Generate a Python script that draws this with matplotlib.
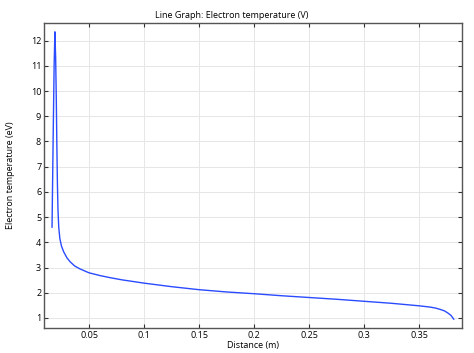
import numpy as np
import matplotlib
matplotlib.use('Agg')
import matplotlib.pyplot as plt

# Electron temperature along the line
distance = [0.0164, 0.0175, 0.0183, 0.019, 0.0197, 0.0203, 0.0208, 0.0213, 0.0218, 0.0225,
            0.0235, 0.025, 0.027, 0.03, 0.033, 0.037, 0.042, 0.05, 0.06, 0.07,
            0.08, 0.1, 0.125, 0.15, 0.175, 0.2, 0.225, 0.25, 0.275, 0.3,
            0.325, 0.35, 0.36, 0.365, 0.369, 0.373, 0.376, 0.379, 0.3815]
temperature = [4.6, 8.4, 11.0, 12.35, 11.3, 9.6, 7.8, 6.3, 5.3, 4.6,
               4.15, 3.85, 3.62, 3.38, 3.22, 3.06, 2.94, 2.79, 2.68, 2.59,
               2.51, 2.38, 2.24, 2.12, 2.03, 1.96, 1.88, 1.81, 1.74, 1.66,
               1.58, 1.48, 1.43, 1.39, 1.34, 1.28, 1.2, 1.1, 0.95]

xticks = [0.05, 0.1, 0.15, 0.2, 0.25, 0.3, 0.35]
yticks = list(range(1, 13))

plt.rcParams['font.family'] = ['Open Sans', 'DejaVu Sans']
fig = plt.figure(figsize=(4.74, 3.53), dpi=100)
ax = fig.add_axes([44 / 474, 1 - 328 / 353, 418 / 474, 305 / 353])

ax.plot(distance, temperature, color='#2a4bff', lw=1.0)

ax.set_xlim(0.0091, 0.389)
ax.set_ylim(0.6, 12.7)
ax.set_xticks(xticks)
ax.set_xticklabels([f'{t:g}' for t in xticks])
ax.set_yticks(yticks)
ax.grid(True, color='#e6e6e6', lw=0.7)
ax.set_axisbelow(True)
ax.tick_params(direction='in', top=True, right=True, length=3, width=0.8,
               labelsize=6.5, colors='#333333', labelcolor='black', pad=2)
for s in ax.spines.values():
    s.set_color('#555555')
    s.set_linewidth(1.0)

# title sits centred on the figure, not the axes
fig.text(232 / 474, 1 - 15 / 353, 'Line Graph: Electron temperature (V)',
         fontsize=6.5, ha='center', va='center')
ax.set_xlabel('Distance (m)', fontsize=6.5, labelpad=1)
ax.set_ylabel('Electron temperature (eV)', fontsize=6.5, labelpad=11)

fig.savefig('out.png', dpi=100)
